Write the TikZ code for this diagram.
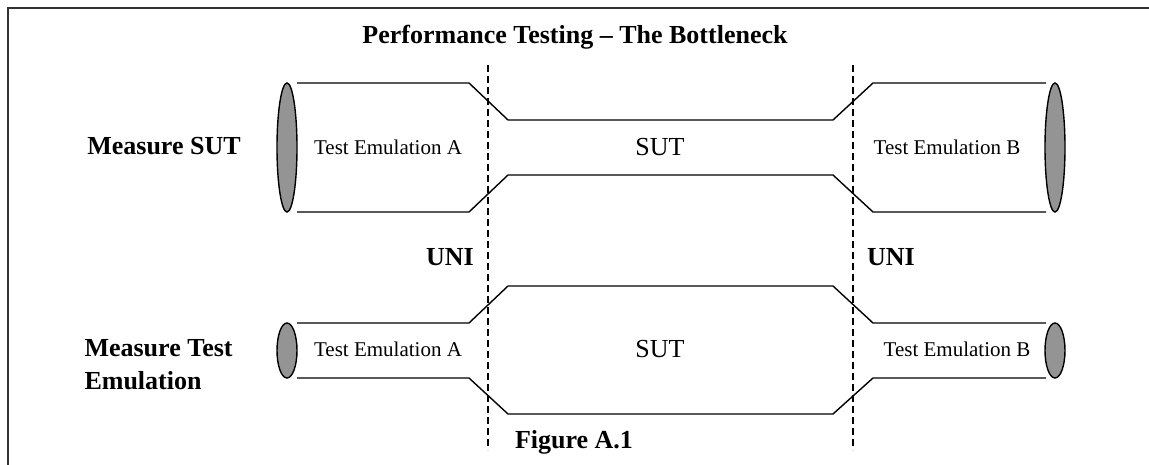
\documentclass[tikz,border=0pt]{standalone}
\usepackage{fontspec}
\setmainfont{Liberation Serif}
\usetikzlibrary{calc}
\tikzset{
	pipeline/.style={line width=1.4pt, color=black},
	pipeend/.style={line width=1.4pt, draw=black, fill=black!42},
	unidash/.style={line width=1.2pt, dash pattern=on 7pt off 4pt},
	bigbold/.style={font=\fontsize{26}{33}\selectfont\bfseries},
	pipetext/.style={font=\fontsize{21}{24}\selectfont},
	suttext/.style={font=\fontsize{26}{30}\selectfont}
}

\begin{document}
\begin{tikzpicture}[x=1pt, y=-1pt]
		%%%%% START %%%%%
		\useasboundingbox (0, 0) rectangle (1149, 465);
		
		\draw[line width=2.2pt, color=black!80] (8, 466) -- (8, 8) -- (1150, 8);
		
		\node[bigbold] (title) at (575, 37) {Performance Testing -- The Bottleneck};
		
		\draw[unidash] (488, 65) -- (488, 450);
		\draw[unidash] (853, 65) -- (853, 450);
		
		% upper pipe: narrow SUT
		\draw[pipeline] (297, 83) -- (469, 83) -- (508, 120) -- (833, 120) -- (873, 83) -- (1046, 83);
		\draw[pipeline] (297, 212) -- (469, 212) -- (508, 175) -- (833, 175) -- (873, 212) -- (1046, 212);
		\draw[pipeend] (287, 147.5) ellipse (10 and 64.5);
		\draw[pipeend] (1055, 147.5) ellipse (10 and 64.5);
		
		% lower pipe: narrow test emulation
		\draw[pipeline] (297, 323) -- (469, 323) -- (508, 286) -- (833, 286) -- (873, 323) -- (1046, 323);
		\draw[pipeline] (297, 378) -- (469, 378) -- (508, 414) -- (833, 414) -- (873, 378) -- (1046, 378);
		\draw[pipeend] (287, 350.5) ellipse (10 and 27.5);
		\draw[pipeend] (1055, 350.5) ellipse (10 and 27.5);
		
		\node[bigbold] (meassut) at (164, 146) {Measure SUT};
		\node[bigbold, align=left, anchor=west] (measemu) at (81, 365) {Measure Test\\Emulation};
		
		\node[pipetext] (emua1) at (388, 147) {Test Emulation A};
		\node[suttext] (sut1) at (660, 147) {SUT};
		\node[pipetext] (emub1) at (947, 147) {Test Emulation B};
		
		\node[pipetext] (emua2) at (388, 349) {Test Emulation A};
		\node[suttext] (sut2) at (660, 349) {SUT};
		\node[pipetext] (emub2) at (957, 349) {Test Emulation B};
		
		\node[bigbold] (unia) at (450, 257) {UNI};
		\node[bigbold] (unib) at (891, 257) {UNI};
		
		\node[bigbold] (figlabel) at (574, 442) {Figure A.1};
		%%%%% END %%%%%
\end{tikzpicture}
\end{document}
